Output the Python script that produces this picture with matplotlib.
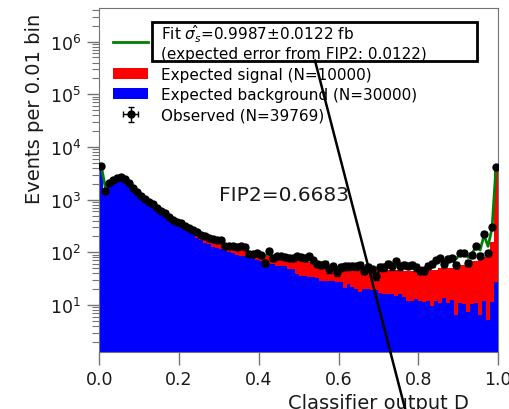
import numpy as np
import matplotlib
matplotlib.use("Agg")
import matplotlib.pyplot as plt
from matplotlib.lines import Line2D
from matplotlib.patches import Rectangle

# 100 bins of width 0.01 on the classifier output
bin_edges = np.linspace(0.0, 1.0, 101)

background = [
    4170, 1660, 2090, 2400, 2570, 2690, 2510, 2090, 1740, 1445,
    1200, 1047, 912, 813, 708, 617, 550, 479, 417, 363,
    324, 288, 257, 219, 186, 174, 151, 141, 129, 123,
    115, 110, 102, 98, 89, 87, 85, 81, 79, 71,
    69, 62, 60, 59, 56, 56, 55, 49, 48, 39,
    36, 35, 34, 34, 32, 29, 29, 29, 28, 27,
    27, 21, 25, 22, 20, 18, 20, 20, 19, 19,
    17, 16, 16, 16, 15, 16, 14, 12, 12, 13,
    12, 11.6, 12, 9.5, 12, 11, 13.5, 11, 12.6, 6.6,
    11, 10.5, 7.5, 10.5, 11, 6.6, 12, 5.3, 11.3, 27,
]

signal = [
    200, 40, 50, 55, 60, 64, 60, 50, 40, 35,
    30, 23, 21, 19, 16, 14, 12, 11, 20, 26,
    31, 28, 31, 44, 43, 40, 44, 41, 41, 35,
    36, 31, 30, 28, 28, 25, 22, 21, 21, 22,
    22, 25, 25, 22, 23, 22, 21, 25, 24, 32,
    33, 33, 32, 29, 28, 30, 29, 27, 27, 28,
    27, 33, 29, 30, 32, 34, 28, 28, 29, 29,
    31, 30, 30, 30, 31, 30, 30, 32, 32, 31,
    32, 34.4, 34, 36.5, 34, 39, 36.5, 39, 37.4, 51.4,
    47, 47.5, 61.5, 58.5, 58, 76.4, 71, 77.7, 148.7, 4143,
]

observed = [
    4420, 1430, 2090, 2400, 2570, 2750, 2510, 2040, 1700, 1410,
    1175, 1023, 912, 813, 708, 617, 550, 468, 417, 380,
    355, 316, 288, 263, 240, 214, 204, 191, 182, 172,
    174, 134, 130, 130, 128, 130, 125, 93, 93, 98,
    89, 63, 106, 78, 84, 84, 80, 79, 77, 84,
    80, 77, 84, 70, 60, 58, 60, 48, 54, 42,
    52, 54, 54, 56, 54, 58, 45, 52, 48, 36,
    52, 52, 60, 54, 67, 54, 58, 56, 58, 52,
    45, 45, 56, 60, 70, 77, 60, 75, 77, 58,
    98, 98, 63, 89, 134, 86, 224, 96, 300, 4120,
]

fitted = [
    4370, 1700, 2140, 2455, 2630, 2754, 2570, 2140, 1780, 1480,
    1230, 1070, 933, 832, 724, 631, 562, 490, 437, 389,
    355, 316, 288, 263, 238, 218, 204, 192, 182, 174,
    165, 140, 132, 130, 128, 126, 120, 100, 96, 95,
    90, 88, 90, 84, 84, 83, 81, 79, 78, 80,
    79, 78, 76, 70, 62, 60, 58, 54, 53, 52,
    53, 54, 54, 55, 55, 55, 52, 52, 50, 50,
    52, 53, 57, 57, 60, 57, 57, 56, 56, 53,
    50, 50, 55, 60, 68, 73, 68, 74, 76, 75,
    95, 96, 80, 95, 130, 110, 210, 130, 290, 4150,
]

fit_label = ("Fit $\\hat{\\sigma_s}$=0.9987$\\pm$0.0122 fb\n"
             "(expected error from FIP2: 0.0122)")
sig_label = "Expected signal (N=10000)"
bkg_label = "Expected background (N=30000)"
obs_label = "Observed (N=39769)"
fip_text = "FIP2=0.6683"

centers = 0.5 * (bin_edges[:-1] + bin_edges[1:])
bkg = np.array(background, dtype=float)
sig = np.array(signal, dtype=float)
obs = np.array(observed, dtype=float)

fig = plt.figure(figsize=(5.1, 4.1), dpi=100)
ax = fig.add_axes([0.1947, 0.1398, 0.7818, 0.8376])

# stacked expectation: signal on top of background
ax.stairs(bkg + sig, bin_edges, fill=True, color="red", baseline=1e-2,
          linewidth=0, label=sig_label, zorder=1)
ax.stairs(bkg, bin_edges, fill=True, color="blue", baseline=1e-2,
          linewidth=0, label=bkg_label, zorder=2)
ax.plot(centers, fitted, color="green", linewidth=2, label=fit_label, zorder=3)
ax.errorbar(centers, obs, yerr=np.sqrt(obs), xerr=0.005, fmt="o",
            color="black", markersize=5, elinewidth=1, capsize=2,
            label=obs_label, zorder=4)

ax.set_yscale("log")
ax.set_xlim(0.0, 1.0)
ax.set_ylim(1.3, 4.3e6)

ax.text(0.3, 1000, fip_text, fontsize=14.5, color="0.1")

ax.set_xlabel("Classifier output D", fontsize=14, x=0.7, color="0.1")
ax.set_ylabel("Events per 0.01 bin", fontsize=14, y=0.71, color="0.1")

for sp in ax.spines.values():
    sp.set_color("0.45")
ax.tick_params(which="major", length=9, width=1, color="0.45",
               labelsize=12.5, labelcolor="0.1", pad=4)
ax.tick_params(which="minor", length=5, width=0.8, color="0.45")

handles, labels = ax.get_legend_handles_labels()
order = [labels.index(l) for l in (fit_label, sig_label, bkg_label, obs_label)]
leg = ax.legend([handles[i] for i in order], [labels[i] for i in order],
                loc="upper left", frameon=False, fontsize=11,
                labelspacing=0.36, handlelength=2.3, handletextpad=0.85)

# box around the fit result and the pointer line below it
ax.add_patch(Rectangle((0.1314, 0.8474), 0.8152, 0.1136,
                       transform=ax.transAxes, fill=False,
                       edgecolor="black", linewidth=2, zorder=6))
ax.add_line(Line2D([0.541, 0.767], [0.8474, -0.167], transform=ax.transAxes,
                   color="black", linewidth=1.8, clip_on=False, zorder=6))

fig.savefig("out.png", dpi=100)
